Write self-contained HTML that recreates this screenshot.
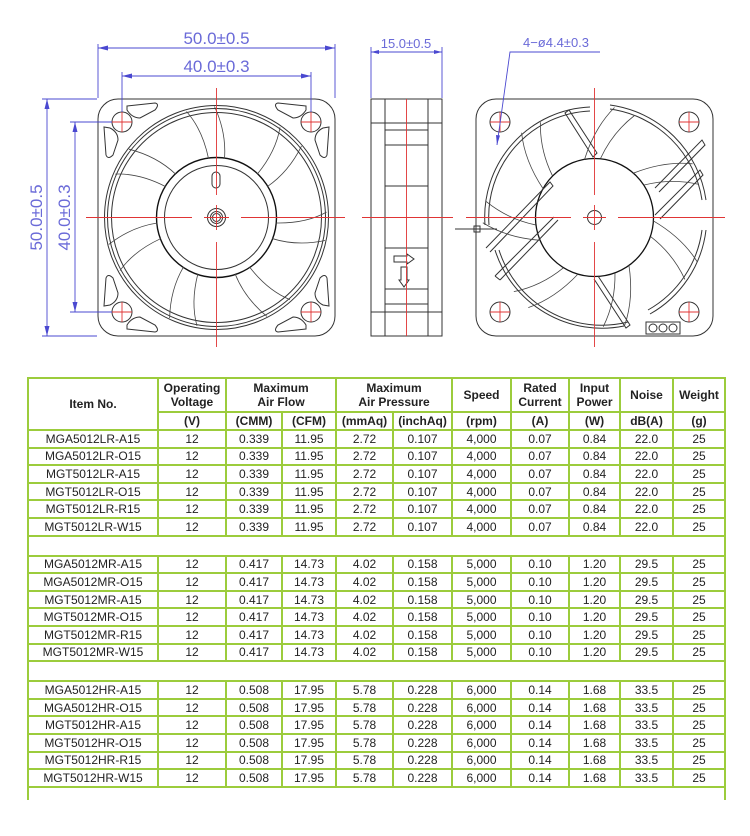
<!DOCTYPE html>
<html><head><meta charset="utf-8">
<style>
html,body{margin:0;padding:0;background:#fff;width:750px;height:836px;overflow:hidden;position:relative;font-family:"Liberation Sans",Arial,sans-serif}
svg{position:absolute;left:0;top:0}
table{position:absolute;left:27px;top:377px;border-collapse:collapse;table-layout:fixed;width:697px;font-size:12px;color:#222}
td{border:2px solid #9ccc3c;text-align:center;padding:0;height:15.6px;line-height:14px;white-space:nowrap;overflow:hidden}
.h td{font-weight:bold;color:#222}
tr.sp td{height:18px;border-left:2px solid #9ccc3c;border-right:2px solid #9ccc3c}
</style></head><body>
<svg width="750" height="836" viewBox="0 0 750 836">
<defs>
<g id="hole"><circle r="10" fill="none" stroke="#333" stroke-width="1"/></g>
<path id="blade" d="M -8,-59 Q -14,-88 -30,-106 M 8,-59 Q 10,-85 -2,-111" fill="none" stroke="#444" stroke-width="0.8"/>
<path id="blade2" d="M 6,-59 Q 18,-85 40,-102 M -10,-58 Q 0,-90 20,-110" fill="none" stroke="#444" stroke-width="0.8"/>
</defs>
<g fill="none" stroke="#333" stroke-width="1">
<rect x="98" y="99" width="237" height="237" rx="20"/>
<circle cx="216.5" cy="217.5" r="112"/>
<circle cx="216.5" cy="217.5" r="109"/>
<circle cx="216.5" cy="217.5" r="105"/>
<circle cx="216.5" cy="217.5" r="60" stroke="#111" stroke-width="1.4"/>
<circle cx="216.5" cy="217.5" r="52"/>
<circle cx="216.5" cy="217.5" r="9"/><circle cx="216.5" cy="217.5" r="6"/><circle cx="216.5" cy="217.5" r="4"/>
<rect x="212" y="172" width="8" height="16" rx="4"/>
<g transform="translate(122,122)"><use href="#hole"/></g>
<g transform="translate(311,122)"><use href="#hole"/></g>
<g transform="translate(122,312)"><use href="#hole"/></g>
<g transform="translate(311,312)"><use href="#hole"/></g>
<path d="M 127,106 L 155,103 Q 160,104 155,110 L 140,118 Q 132,118 127,110 Z"/>
<path d="M 104,127 L 106,155 Q 108,160 113,155 L 118,140 Q 118,132 110,128 Z"/>
<path d="M 306,106 L 278,103 Q 273,104 278,110 L 293,118 Q 301,118 306,110 Z"/>
<path d="M 329,127 L 327,155 Q 325,160 320,155 L 315,140 Q 315,132 323,128 Z"/>
<path d="M 127,329 L 155,332 Q 160,331 155,325 L 140,317 Q 132,317 127,325 Z"/>
<path d="M 104,306 L 106,278 Q 108,273 113,278 L 118,293 Q 118,301 110,305 Z"/>
<path d="M 306,329 L 278,332 Q 273,331 278,325 L 293,317 Q 301,317 306,325 Z"/>
<path d="M 329,306 L 327,278 Q 325,273 320,278 L 315,293 Q 315,301 323,305 Z"/>
<g transform="translate(216.5,217.5)">
<use href="#blade"/><use href="#blade" transform="rotate(51)"/><use href="#blade" transform="rotate(103)"/><use href="#blade" transform="rotate(154)"/><use href="#blade" transform="rotate(206)"/><use href="#blade" transform="rotate(257)"/><use href="#blade" transform="rotate(309)"/>
</g>
<rect x="371" y="99" width="71" height="237"/>
<rect x="385" y="99" width="43" height="237"/>
<line x1="371" y1="123" x2="442" y2="123"/>
<line x1="385" y1="130" x2="428" y2="130"/>
<line x1="385" y1="145" x2="428" y2="145"/>
<line x1="385" y1="186" x2="428" y2="186"/>
<line x1="385" y1="248" x2="428" y2="248"/>
<line x1="385" y1="289" x2="428" y2="289"/>
<line x1="385" y1="304" x2="428" y2="304"/>
<line x1="371" y1="312" x2="442" y2="312"/>
<path d="M 394,256 L 407,256 L 407,254 L 414,259 L 407,264 L 407,262 L 394,262 Z"/>
<path d="M 401,267 L 401,280 L 399,280 L 404,287 L 409,280 L 407,280 L 407,267 Z"/>
<rect x="476" y="99" width="237" height="237" rx="20"/>
<path d="M 485,225 A 110,110 0 0 1 590,107" />
<path d="M 489,225 A 106,106 0 0 1 590,111" />
<path d="M 610,105 A 112,112 0 0 1 706,200"/>
<path d="M 610,109 A 108,108 0 0 1 702,200"/>
<path d="M 706,230 A 112,112 0 0 1 650,314"/>
<path d="M 702,230 A 108,108 0 0 1 648,310"/>
<path d="M 624,326 A 112,112 0 0 1 495,250"/>
<path d="M 628,322 A 108,108 0 0 1 499,250"/>
<circle cx="594.5" cy="217.5" r="59" stroke="#111" stroke-width="1.3"/>
<circle cx="594.5" cy="217.5" r="7"/>
<path d="M 486,248 L 550,182 L 553,186 L 490,252"/>
<path d="M 495,276 L 554,217 M 500,280 L 558,220 M 495,276 L 500,280"/>
<path d="M 565,113 L 593,157 L 597,153 L 569,110 Z" />
<path d="M 598,276 L 630,325 L 626,328 L 594,279"/>
<path d="M 655,188 L 702,140 L 705,145 L 659,192"/>
<path d="M 655,215 L 700,170 L 703,175 L 660,219"/>
<g transform="translate(594.5,217.5)">
<use href="#blade2"/><use href="#blade2" transform="rotate(51)"/><use href="#blade2" transform="rotate(103)"/><use href="#blade2" transform="rotate(154)"/><use href="#blade2" transform="rotate(206)"/><use href="#blade2" transform="rotate(257)"/><use href="#blade2" transform="rotate(309)"/>
</g>
<g transform="translate(500,122)"><use href="#hole"/></g>
<g transform="translate(689,122)"><use href="#hole"/></g>
<g transform="translate(500,312)"><use href="#hole"/></g>
<g transform="translate(689,312)"><use href="#hole"/></g>
<rect x="646" y="322" width="34" height="12"/>
<circle cx="653" cy="328" r="4"/><circle cx="663" cy="328" r="4"/><circle cx="673" cy="328" r="4"/>
<rect x="474" y="226" width="6" height="6"/>
<line x1="455" y1="229" x2="497" y2="229"/>
</g>
<g stroke="#e03535" stroke-width="0.9" fill="none">
<path d="M 216.5,88 V 195 M 216.5,205 V 230 M 216.5,242 V 347"/>
<path d="M 86,217.5 H 192 M 204,217.5 H 229 M 241,217.5 H 345"/>
<path d="M 362,217.5 H 453 M 406.5,99 V 336"/>
<path d="M 466,217.5 H 571 M 583,217.5 H 606 M 618,217.5 H 725"/>
<path d="M 594.5,88 V 195 M 594.5,205 V 230 M 594.5,242 V 347"/>
<path d="M 112,122 H 132 M 122,112 V 132 M 301,122 H 321 M 311,112 V 132 M 112,312 H 132 M 122,302 V 322 M 301,312 H 321 M 311,302 V 322"/>
<path d="M 490,122 H 510 M 500,112 V 132 M 679,122 H 699 M 689,112 V 132 M 490,312 H 510 M 500,302 V 322 M 679,312 H 699 M 689,302 V 322"/>
</g>
<g stroke="#4a48d0" stroke-width="0.9" fill="none">
<path d="M 98,44 V 98 M 335,44 V 98 M 98,48 H 335"/>
<path d="M 122,72 V 112 M 311,72 V 112 M 122,76 H 311"/>
<path d="M 42,99 H 97 M 42,336 H 97 M 47,99 V 336"/>
<path d="M 70,122 H 112 M 70,312 H 112 M 75,122 V 312"/>
<path d="M 371,47 V 98 M 442,47 V 98 M 371,52 H 442"/>
<path d="M 600,52 H 510 L 497,145"/>
</g>
<g fill="#4a48d0">
<path d="M 98,48 l 10,-2.5 v 5 z M 335,48 l -10,-2.5 v 5 z"/>
<path d="M 122,76 l 10,-2.5 v 5 z M 311,76 l -10,-2.5 v 5 z"/>
<path d="M 47,99 l -2.5,10 h 5 z M 47,336 l -2.5,-10 h 5 z"/>
<path d="M 75,122 l -2.5,10 h 5 z M 75,312 l -2.5,-10 h 5 z"/>
<path d="M 371,52 l 8,-2 v 4 z M 442,52 l -8,-2 v 4 z"/>
<path d="M 497,145 l -1,-10 l 4,0.5 z"/>
</g>
<g fill="#6a6ad8" font-family="Liberation Sans, sans-serif">
<text x="216.5" y="44" font-size="17" text-anchor="middle">50.0±0.5</text>
<text x="216.5" y="72" font-size="17" text-anchor="middle">40.0±0.3</text>
<text transform="translate(42,217.5) rotate(-90)" font-size="17" text-anchor="middle">50.0±0.5</text>
<text transform="translate(70,217.5) rotate(-90)" font-size="17" text-anchor="middle">40.0±0.3</text>
<text x="406" y="48" font-size="13" text-anchor="middle">15.0±0.5</text>
<text x="556" y="47" font-size="13" text-anchor="middle">4−ø4.4±0.3</text>
</g>
</svg>
<table>
<colgroup><col style="width:130px"><col style="width:68px"><col style="width:56px"><col style="width:54px"><col style="width:57px"><col style="width:59px"><col style="width:59px"><col style="width:58px"><col style="width:51px"><col style="width:53px"><col style="width:52px"></colgroup>
<tr class="h"><td rowspan="2" style="height:50px">Item No.</td><td style="height:32px">Operating<br>Voltage</td><td colspan="2">Maximum<br>Air Flow</td><td colspan="2">Maximum<br>Air Pressure</td><td>Speed</td><td>Rated<br>Current</td><td>Input<br>Power</td><td>Noise</td><td>Weight</td></tr>
<tr class="h"><td style="height:15px">(V)</td><td>(CMM)</td><td>(CFM)</td><td>(mmAq)</td><td>(inchAq)</td><td>(rpm)</td><td>(A)</td><td>(W)</td><td>dB(A)</td><td>(g)</td></tr>
<tr><td>MGA5012LR-A15</td><td>12</td><td>0.339</td><td>11.95</td><td>2.72</td><td>0.107</td><td>4,000</td><td>0.07</td><td>0.84</td><td>22.0</td><td>25</td></tr>
<tr><td>MGA5012LR-O15</td><td>12</td><td>0.339</td><td>11.95</td><td>2.72</td><td>0.107</td><td>4,000</td><td>0.07</td><td>0.84</td><td>22.0</td><td>25</td></tr>
<tr><td>MGT5012LR-A15</td><td>12</td><td>0.339</td><td>11.95</td><td>2.72</td><td>0.107</td><td>4,000</td><td>0.07</td><td>0.84</td><td>22.0</td><td>25</td></tr>
<tr><td>MGT5012LR-O15</td><td>12</td><td>0.339</td><td>11.95</td><td>2.72</td><td>0.107</td><td>4,000</td><td>0.07</td><td>0.84</td><td>22.0</td><td>25</td></tr>
<tr><td>MGT5012LR-R15</td><td>12</td><td>0.339</td><td>11.95</td><td>2.72</td><td>0.107</td><td>4,000</td><td>0.07</td><td>0.84</td><td>22.0</td><td>25</td></tr>
<tr><td>MGT5012LR-W15</td><td>12</td><td>0.339</td><td>11.95</td><td>2.72</td><td>0.107</td><td>4,000</td><td>0.07</td><td>0.84</td><td>22.0</td><td>25</td></tr>
<tr class="sp"><td colspan="11"></td></tr>
<tr><td>MGA5012MR-A15</td><td>12</td><td>0.417</td><td>14.73</td><td>4.02</td><td>0.158</td><td>5,000</td><td>0.10</td><td>1.20</td><td>29.5</td><td>25</td></tr>
<tr><td>MGA5012MR-O15</td><td>12</td><td>0.417</td><td>14.73</td><td>4.02</td><td>0.158</td><td>5,000</td><td>0.10</td><td>1.20</td><td>29.5</td><td>25</td></tr>
<tr><td>MGT5012MR-A15</td><td>12</td><td>0.417</td><td>14.73</td><td>4.02</td><td>0.158</td><td>5,000</td><td>0.10</td><td>1.20</td><td>29.5</td><td>25</td></tr>
<tr><td>MGT5012MR-O15</td><td>12</td><td>0.417</td><td>14.73</td><td>4.02</td><td>0.158</td><td>5,000</td><td>0.10</td><td>1.20</td><td>29.5</td><td>25</td></tr>
<tr><td>MGT5012MR-R15</td><td>12</td><td>0.417</td><td>14.73</td><td>4.02</td><td>0.158</td><td>5,000</td><td>0.10</td><td>1.20</td><td>29.5</td><td>25</td></tr>
<tr><td>MGT5012MR-W15</td><td>12</td><td>0.417</td><td>14.73</td><td>4.02</td><td>0.158</td><td>5,000</td><td>0.10</td><td>1.20</td><td>29.5</td><td>25</td></tr>
<tr class="sp"><td colspan="11"></td></tr>
<tr><td>MGA5012HR-A15</td><td>12</td><td>0.508</td><td>17.95</td><td>5.78</td><td>0.228</td><td>6,000</td><td>0.14</td><td>1.68</td><td>33.5</td><td>25</td></tr>
<tr><td>MGA5012HR-O15</td><td>12</td><td>0.508</td><td>17.95</td><td>5.78</td><td>0.228</td><td>6,000</td><td>0.14</td><td>1.68</td><td>33.5</td><td>25</td></tr>
<tr><td>MGT5012HR-A15</td><td>12</td><td>0.508</td><td>17.95</td><td>5.78</td><td>0.228</td><td>6,000</td><td>0.14</td><td>1.68</td><td>33.5</td><td>25</td></tr>
<tr><td>MGT5012HR-O15</td><td>12</td><td>0.508</td><td>17.95</td><td>5.78</td><td>0.228</td><td>6,000</td><td>0.14</td><td>1.68</td><td>33.5</td><td>25</td></tr>
<tr><td>MGT5012HR-R15</td><td>12</td><td>0.508</td><td>17.95</td><td>5.78</td><td>0.228</td><td>6,000</td><td>0.14</td><td>1.68</td><td>33.5</td><td>25</td></tr>
<tr><td>MGT5012HR-W15</td><td>12</td><td>0.508</td><td>17.95</td><td>5.78</td><td>0.228</td><td>6,000</td><td>0.14</td><td>1.68</td><td>33.5</td><td>25</td></tr>
<tr class="sp"><td colspan="11" style="border-bottom:none;height:12px"></td></tr>
</table>
</body></html>
